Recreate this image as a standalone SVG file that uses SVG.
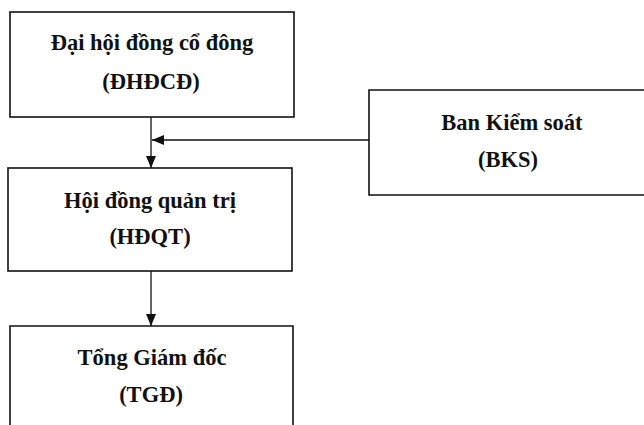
<svg xmlns="http://www.w3.org/2000/svg" width="644" height="425" viewBox="0 0 644 425">
<style>
.box{fill:#fff;stroke:#111;stroke-width:1.6}
.t{font-family:"Liberation Serif","Times New Roman",serif;font-weight:bold;font-size:22.5px;fill:#111;text-anchor:middle}
.c{stroke:#111;stroke-width:1.3;fill:none}
</style>
<defs>
<marker id="ah" viewBox="0 0 12 10" refX="12" refY="5" markerWidth="12" markerHeight="10" markerUnits="userSpaceOnUse" orient="auto">
<path d="M0,0 L12,5 L0,10 Z" fill="#111"/>
</marker>
</defs>
<rect width="644" height="425" fill="#fff"/>
<g id="dhdcd">
<rect class="box" x="10" y="12" width="284" height="105"/>
<text class="t" x="152" y="50">Đại hội đồng cổ đông</text>
<text class="t" x="151" y="89">(ĐHĐCĐ)</text>
</g>
<g id="bks">
<path class="box" d="M646,90 L369,90 L369,195 L646,195"/>
<text class="t" x="512" y="130">Ban Kiểm soát</text>
<text class="t" x="508" y="167">(BKS)</text>
</g>
<g id="hdqt">
<rect class="box" x="8" y="168" width="284" height="103"/>
<text class="t" x="150" y="208">Hội đồng quản trị</text>
<text class="t" x="150" y="244">(HĐQT)</text>
</g>
<g id="tgd">
<path class="box" d="M10,430 L10,326 L293,326 L293,430"/>
<text class="t" x="152" y="365">Tổng Giám đốc</text>
<text class="t" x="151" y="402">(TGĐ)</text>
</g>
<g id="connectors">
<line class="c" x1="151" y1="117" x2="151" y2="168" marker-end="url(#ah)"/>
<line class="c" x1="369" y1="140" x2="152" y2="140" marker-end="url(#ah)"/>
<line class="c" x1="151" y1="271" x2="151" y2="326" marker-end="url(#ah)"/>
</g>
</svg>
